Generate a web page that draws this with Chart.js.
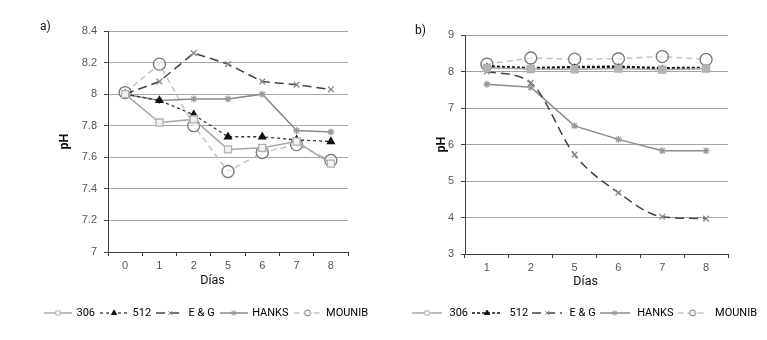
<!DOCTYPE html>
<html>
<head>
<meta charset="utf-8">
<script src="https://cdn.jsdelivr.net/npm/chart.js@4/dist/chart.umd.min.js"></script>
<style>
  body { margin: 0; background: #fff; }
  #wrap { position: relative; width: 767px; height: 340px; overflow: hidden; }
  canvas { position: absolute; top: 0; }
</style>
</head>
<body>
<div id="wrap">
  <canvas id="chartA" width="400" height="340" style="left:0"></canvas>
  <canvas id="chartB" width="400" height="340" style="left:383px"></canvas>
</div>
<script>
/* ---------------- DATA ---------------- */
const seriesNames = ["306", "512", "E & G", "HANKS", "MOUNIB"];

const daysA = ["0", "1", "2", "5", "6", "7", "8"];
const a306 = [8.0, 7.82, 7.84, 7.65, 7.66, 7.70, 7.56];
const a512 = [8.0, 7.96, 7.87, 7.73, 7.73, 7.71, 7.70];
const aEG = [8.0, 8.08, 8.26, 8.19, 8.08, 8.06, 8.03];
const aHanks = [8.0, 7.96, 7.97, 7.97, 8.0, 7.77, 7.76];
const aMounib = [8.01, 8.19, 7.80, 7.51, 7.63, 7.68, 7.58];
const ticksA = { min: 7, max: 8.4, step: 0.2 };

const daysB = ["1", "2", "5", "6", "7", "8"];
const b306 = [8.10, 8.07, 8.06, 8.08, 8.05, 8.08];
const b512 = [8.14, 8.09, 8.12, 8.13, 8.09, 8.10];
const bEG = [8.00, 7.69, 5.72, 4.68, 4.02, 3.97];
const bHanks = [7.65, 7.57, 6.51, 6.14, 5.83, 5.83];
const bMounib = [8.20, 8.37, 8.34, 8.35, 8.41, 8.33];
const ticksB = { min: 3, max: 9, step: 1 };

/* ---------------- STYLES ---------------- */
const narrow = "Roboto, 'Liberation Sans', sans-serif";
const plain = "'Liberation Sans', Arial, sans-serif";

function seriesStyles(panel) {
  return [
    { borderColor: "#a8a8a8", borderWidth: 1.5, borderDash: [], pointStyle: "rect", pointRadius: 5,
      pointBackgroundColor: panel === "b" ? "#b4b4b4" : "#f2f2f2", pointBorderColor: "#b0b0b0" },
    { borderColor: panel === "b" ? "#111" : "#333", borderWidth: panel === "b" ? 2.5 : 1.3,
      borderDash: panel === "b" ? [3, 2] : [3, 3], pointStyle: "triangle", pointRadius: panel === "b" ? 2.5 : 4,
      pointBackgroundColor: "#111", pointBorderColor: "#111" },
    { borderColor: "#444", borderWidth: 1.5, borderDash: [9, 5], pointStyle: "crossRot", pointRadius: 4,
      pointBackgroundColor: "#888", pointBorderColor: "#888", cubicInterpolationMode: panel === "b" ? "monotone" : "default" },
    { borderColor: "#8a8a8a", borderWidth: 1.5, borderDash: [], pointStyle: "star", pointRadius: 3.5,
      pointBackgroundColor: "#999", pointBorderColor: "#999" },
    { borderColor: "#c4c4c4", borderWidth: 1.5, borderDash: [6, 4], pointStyle: "circle", pointRadius: 6,
      pointBackgroundColor: "rgba(255,255,255,0.6)", pointBorderColor: "#777" },
  ];
}

// small canvas with line + marker for the legend
function legendSymbol(st, w) {
  const c = document.createElement("canvas");
  c.width = w;
  c.height = 12;
  const g = c.getContext("2d");
  g.strokeStyle = st.borderColor;
  g.lineWidth = Math.min(st.borderWidth, 1.5);
  g.setLineDash(st.borderDash);
  g.beginPath();
  g.moveTo(0, 6);
  g.lineTo(w, 6);
  g.stroke();
  g.setLineDash([]);
  g.fillStyle = st.pointStyle === "triangle" ? "#111" : "#fff";
  g.strokeStyle = st.pointBorderColor;
  g.lineWidth = 1;
  Chart.helpers.drawPoint(g, { pointStyle: st.pointStyle, radius: 3, borderWidth: 1, rotation: 0 }, w / 2, 6);
  return c;
}

const panelLabel = {
  id: "panelLabel",
  afterDraw(chart, args, opts) {
    const ctx = chart.ctx;
    ctx.save();
    ctx.font = "12px " + narrow;
    ctx.fillStyle = "#111";
    ctx.textBaseline = "middle";
    ctx.fillText(opts.text, opts.x, opts.y);
    ctx.restore();
  },
};

function fmt(v) {
  return String(Number(v.toFixed(1)));
}

function makeChart(id, cfg) {
  const styles = seriesStyles(cfg.panel);
  const symbols = styles.map((s) => legendSymbol(s, cfg.symW));
  const datasets = cfg.series.map((vals, i) => ({
    label: seriesNames[i],
    data: vals,
    fill: false,
    tension: 0,
    pointHoverRadius: styles[i].pointRadius,
    pointBorderWidth: 1.3,
    ...styles[i],
  }));

  return new Chart(document.getElementById(id), {
    type: "line",
    data: { labels: cfg.labels, datasets },
    plugins: [panelLabel],
    options: {
      responsive: false,
      animation: false,
      layout: { padding: { left: cfg.padL, right: 0, top: cfg.padT, bottom: cfg.padB } },
      plugins: {
        tooltip: { enabled: false },
        panelLabel: cfg.tag,
        legend: {
          position: "bottom",
          align: "start",
          labels: {
            usePointStyle: true,
            pointStyleWidth: cfg.boxW,
            padding: cfg.legPad,
            color: "#000",
            font: { family: narrow, size: 11 },
            generateLabels: () =>
              seriesNames.map((n, i) => ({
                text: n,
                pointStyle: symbols[i],
                datasetIndex: i,
                hidden: false,
                lineWidth: 0,
                fillStyle: "transparent",
                strokeStyle: "transparent",
                fontColor: "#000",
              })),
          },
        },
      },
      scales: {
        x: {
          offset: true,
          afterFit: (s) => { s.height = cfg.xH; },
          grid: { display: true, offset: true, drawOnChartArea: false, tickLength: 4, color: "#404040" },
          border: { color: "#404040", width: 1 },
          ticks: { color: "#555", padding: 3, font: { family: plain, size: 11 } },
          title: { display: true, text: "Días" + "\u00a0".repeat(cfg.titleShift), color: "#111",
            font: { family: narrow, size: 12.5 }, padding: { top: 0, bottom: cfg.xTitlePad } },
        },
        y: {
          min: cfg.ticks.min,
          max: cfg.ticks.max,
          afterFit: (s) => { s.width = cfg.yW; },
          grid: { color: "#a6a6a6", lineWidth: 1, tickLength: 4, tickColor: "#404040" },
          border: { color: "#404040", width: 1 },
          ticks: { stepSize: cfg.ticks.step, color: "#555", padding: 7, font: { family: plain, size: 11 }, callback: fmt },
          title: { display: true, text: "pH", color: "#111",
            font: { family: narrow, size: 12.5, weight: "bold" }, padding: { top: cfg.yTitlePad, bottom: 0 } },
        },
        yr: {
          position: "right",
          afterFit: (s) => { s.width = cfg.rightW; },
          grid: { display: false },
          border: { display: false },
          ticks: { display: false },
        },
      },
    },
  });
}

makeChart("chartA", {
  panel: "a",
  labels: daysA,
  series: [a306, a512, aEG, aHanks, aMounib],
  ticks: ticksA,
  padL: 39, padT: 31, padB: 11.5,
  yW: 69, rightW: 52, xH: 49.5,
  yTitlePad: 18.5, xTitlePad: 13, titleShift: 10,
  boxW: 26, symW: 28, legPad: 6,
  tag: { text: "a)", x: 40, y: 27 },
});

makeChart("chartB", {
  panel: "b",
  labels: daysB,
  series: [b306, b512, bEG, bHanks, bMounib],
  ticks: ticksB,
  padL: 25, padT: 35, padB: 11.5,
  yW: 57, rightW: 55, xH: 51.5,
  yTitlePad: 26.5, xTitlePad: 16, titleShift: 7,
  boxW: 34, symW: 30, legPad: 2,
  tag: { text: "b)", x: 32, y: 31 },
});
</script>
</body>
</html>
